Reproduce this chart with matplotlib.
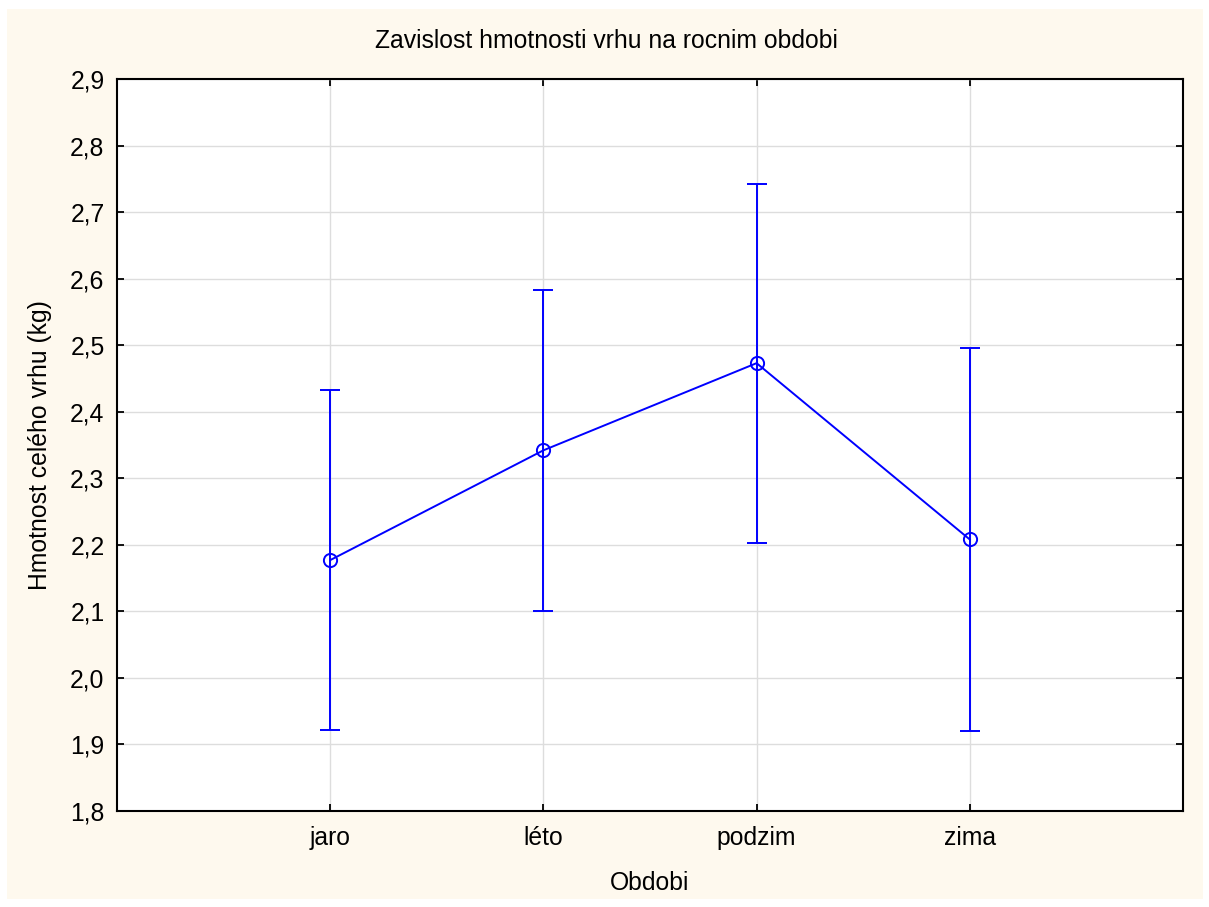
import numpy as np
import matplotlib
matplotlib.use("Agg")
import matplotlib.pyplot as plt
from matplotlib.patches import Rectangle
from matplotlib.ticker import FuncFormatter

plt.rcParams['font.family'] = ['Liberation Sans', 'DejaVu Sans']

seasons = ['jaro', 'léto', 'podzim', 'zima']
mean_kg = [2.177, 2.342, 2.473, 2.208]
upper_kg = [2.433, 2.583, 2.742, 2.496]
lower_kg = [1.921, 2.101, 2.203, 1.920]

blue = '#0000FF'
cream = '#FEF9EE'
fs = 17.8

fig = plt.figure(figsize=(12.09, 9.07), dpi=100, facecolor='white')
fig.patches.append(Rectangle((7 / 1209, 1 - 899 / 907), 1196 / 1209, 890 / 907,
                             transform=fig.transFigure, facecolor=cream,
                             edgecolor='none', zorder=-10))

ax = fig.add_axes([117 / 1209, 1 - 811 / 907, 1066 / 1209, 732 / 907])
ax.set_facecolor('white')

x = np.arange(len(seasons))
mean = np.array(mean_kg)
yerr = [mean - np.array(lower_kg), np.array(upper_kg) - mean]
ax.errorbar(x, mean, yerr=yerr, color=blue, lw=1.4, elinewidth=1.4,
            capsize=7.5, capthick=1.6, marker='o', ms=9.5, mfc='none',
            mec=blue, mew=1.4, zorder=3)

ax.set_xlim(-1, 4)
ax.set_ylim(1.8, 2.9)
ax.set_xticks(x)
ax.set_xticklabels(seasons)
ax.set_yticks(np.arange(1.8, 2.95, 0.1))
ax.yaxis.set_major_formatter(FuncFormatter(lambda v, p: ('%.1f' % v).replace('.', ',')))

ax.grid(True, color='#DDDDDD', lw=1)
ax.set_axisbelow(True)
for s in ax.spines.values():
    s.set_linewidth(1.5)
    s.set_color('black')
ax.tick_params(direction='in', length=5, width=1.3, labelsize=fs,
               top=True, right=True)
ax.tick_params(axis='y', pad=9)
ax.tick_params(axis='x', pad=11)

ax.set_xlabel('Obdobi', fontsize=fs, labelpad=15)
ax.set_ylabel('Hmotnost celého vrhu (kg)', fontsize=fs, labelpad=13)
fig.text(0.502, 1 - 41 / 907, 'Zavislost hmotnosti vrhu na rocnim obdobi',
         ha='center', va='center', fontsize=fs)

fig.savefig('out.png', dpi=100, facecolor='white')
